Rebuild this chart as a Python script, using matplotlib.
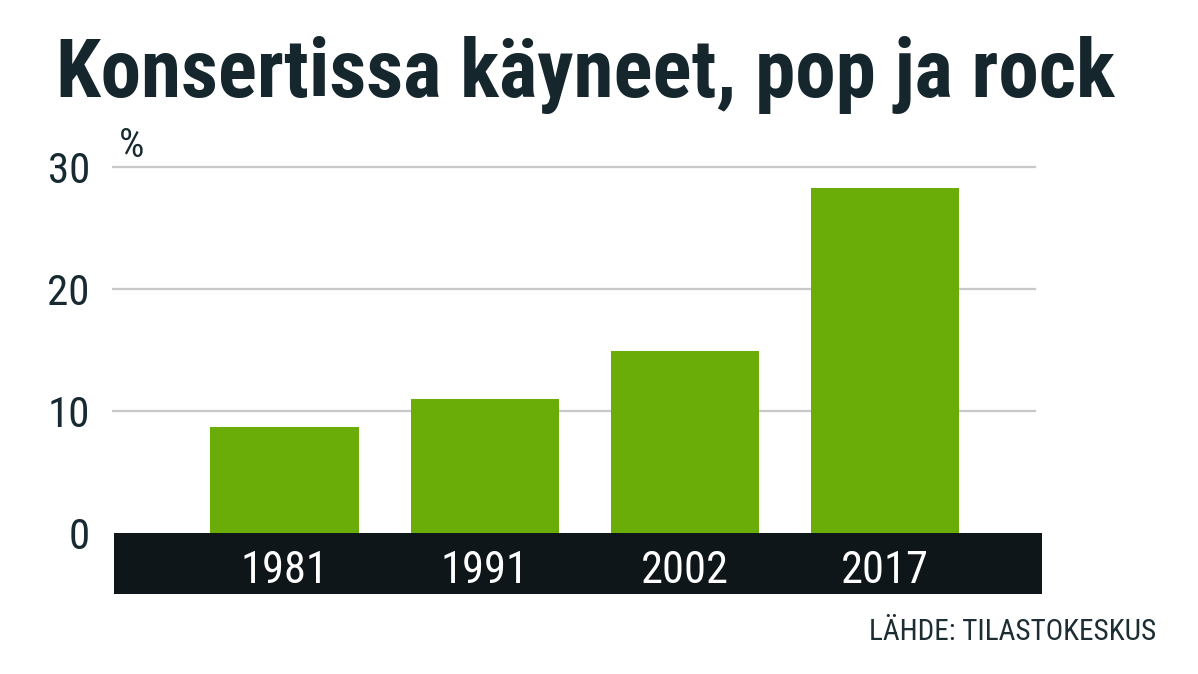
import matplotlib
matplotlib.use("Agg")
import matplotlib.pyplot as plt
from matplotlib import font_manager
from matplotlib.patches import Rectangle

# ---- data ----
years = ["1981", "1991", "2002", "2017"]
values = [8.7, 11.0, 14.9, 28.3]
yticks = [0, 10, 20, 30]
title = "Konsertissa käyneet, pop ja rock"
source = "LÄHDE: TILASTOKESKUS"
unit = "%"

# ---- fonts ----
names = {f.name for f in font_manager.fontManager.ttflist}
cond = "Roboto Condensed" in names
fam = ["Roboto Condensed"] if cond else ["Roboto"]
fam = fam + ["DejaVu Sans"]
plt.rcParams["font.family"] = fam

W, H = 1198, 674
fig = plt.figure(figsize=(W / 100, H / 100), dpi=100)
fig.patch.set_facecolor("white")

# axes geometry in pixels
left_px, right_px = 112, 1042
bottom_px, top_px = 594, 155
ax = fig.add_axes([left_px / W, 1 - bottom_px / H,
                   (right_px - left_px) / W, (bottom_px - top_px) / H])
x0 = -0.861
x1 = 3.782
ax.set_xlim(x0, x1)
ymin = -5.0
ymax = 31.0
ax.set_ylim(ymin, ymax)

BAR = "#6aad08"
DARK = "#0e1619"
TXT = "#172a31"

# gridlines (stop slightly before right edge)
grid_end = (1035 - left_px) / (right_px - left_px)
for t in yticks[1:]:
    ax.axhline(t, xmin=0, xmax=grid_end, color="#c8c8c8", lw=1.6, zorder=1)

# black category band
band_left = x0 + (114 - left_px) / 200.3
ax.add_patch(Rectangle((band_left, ymin), x1 - band_left, 0 - ymin,
                       facecolor=DARK, edgecolor="none", zorder=2))

xs = list(range(len(years)))
ax.bar(xs, values, width=0.74, color=BAR, zorder=3)

for x, lab in zip(xs, years):
    ax.text(x, -4.1, lab, ha="center", va="baseline", color="white",
            fontsize=32 if cond else 27, zorder=4)

ax.set_yticks(yticks)
ax.set_yticklabels([str(t) for t in yticks])
ax.tick_params(axis="y", length=0, pad=16, labelsize=31 if cond else 27,
               labelcolor=TXT)
ax.set_xticks([])
for s in ax.spines.values():
    s.set_visible(False)
ax.set_facecolor("none")

# unit label
fig.text(119 / W, 1 - 157 / H, unit, ha="left", va="baseline",
         fontsize=29, color=TXT)

# title
fig.text(56 / W, 1 - 97 / H, title, ha="left", va="baseline",
         fontsize=58.4 if cond else 46, fontweight="bold", color="#15262d")

# source
fig.text(1156 / W, 1 - 640 / H, source, ha="right", va="baseline",
         fontsize=21, color="#1c2d33")

fig.savefig("out.png", dpi=100, facecolor="white")
